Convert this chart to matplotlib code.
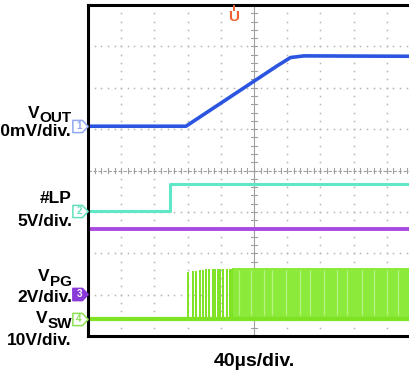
import numpy as np
import matplotlib
matplotlib.use("Agg")
import matplotlib.pyplot as plt
from matplotlib.path import Path

plt.rcParams["font.family"] = ["Liberation Sans", "DejaVu Sans"]

W, H = 410, 372

# Traces in scope divisions (x: 0..10 time div, y: 0..8 vertical div)
t_vout = [0.0, 2.95, 5.70, 6.10, 6.50, 10.0]
v_vout = [5.07, 5.07, 6.53, 6.73, 6.77, 6.76]

t_lp = [0.0, 2.47, 2.47, 10.0]
v_lp = [3.02, 3.02, 3.67, 3.67]

t_pg = [0.0, 10.0]
v_pg = [2.58, 2.58]

sw_low = 0.41
sw_high = 1.62
# first, widely spaced switching pulses before the burst settles
sw_pulses = [3.01, 3.16, 3.25, 3.37, 3.46, 3.55, 3.64, 3.77, 3.83,
             3.92, 3.98, 4.07, 4.19, 4.28, 4.34]
sw_tops = [1.55, 1.57, 1.58, 1.60, 1.60, 1.61, 1.62, 1.62, 1.62,
           1.62, 1.62, 1.63, 1.63, 1.63, 1.63]
burst_start, burst_end = 4.34, 10.0
# lighter gaps seen inside the dense burst
burst_gaps = [4.55, 4.9, 5.3, 5.55, 5.95, 6.4, 6.7, 7.1, 7.5, 7.8,
              8.25, 8.6, 9.0, 9.35, 9.7]

trigger_t = 4.40

# channel markers on the left edge: (label, level, edge colour, fill)
ch_markers = [
    ("1", 5.07, "#8fa8f0", "white"),
    ("2", 3.02, "#62e2bc", "white"),
    ("3", 1.01, "#8a3ad8", "#8a3ad8"),
    ("4", 0.41, "#8ce052", "white"),
]

c_vout = "#2b55e0"
c_lp = "#5ee8c6"
c_pg = "#a94ae0"
c_sw = "#7ee322"


def px(x, y):
    return x / W, 1 - y / H


fig = plt.figure(figsize=(W / 100, H / 100), dpi=100)
ax = fig.add_axes([88 / W, (H - 336) / H, 332 / W, 331 / H])
ax.set_xlim(0, 10)
ax.set_ylim(0, 8)
ax.set_xticks([])
ax.set_yticks([])
for side in ("left", "top", "bottom", "right"):
    ax.spines[side].set_linewidth(2.2)
    ax.spines[side].set_color("black")
    ax.spines[side].set_zorder(10)

# graticule: dotted divisions, ticked centre lines
grid_c = "#b4b4b4"
ys = np.arange(0, 8.01, 0.2)
xs = np.arange(0, 10.01, 0.2)
for k in range(1, 10):
    if k == 5:
        continue
    ax.plot(np.full_like(ys, k), ys, ls="none", marker="s", ms=1.1,
            color=grid_c, mew=0, zorder=1)
for j in range(1, 8):
    if j == 4:
        continue
    ax.plot(xs, np.full_like(xs, j), ls="none", marker="s", ms=1.1,
            color=grid_c, mew=0, zorder=1)
ax.axvline(5, color="#a0a0a0", lw=0.8, zorder=1)
ax.axhline(4, color="#a0a0a0", lw=0.8, ls=(0, (3, 1.5)), zorder=1)
for y in ys:
    ax.plot([4.92, 5.08], [y, y], color="#a0a0a0", lw=0.8, zorder=1)
for x in xs:
    ax.plot([x, x], [3.93, 4.07], color="#a0a0a0", lw=0.8, zorder=1)

# traces
ax.plot(t_vout, v_vout, color=c_vout, lw=2.6, zorder=4, solid_joinstyle="round")
ax.plot(t_lp, v_lp, color=c_lp, lw=2.2, zorder=4)
ax.plot(t_pg, v_pg, color=c_pg, lw=2.8, zorder=4)

ax.fill_between([burst_start, burst_end], sw_low, sw_high + 0.03,
                color="#8cea3a", lw=0, zorder=3)
ax.vlines(burst_gaps, sw_low + 0.1, sw_high - 0.02, color="#b6f484",
          lw=0.9, zorder=3)
ax.vlines(sw_pulses, sw_low, sw_tops, color=c_sw, lw=1.4, zorder=3)
ax.plot([0, 10], [sw_low, sw_low], color=c_sw, lw=3.0, zorder=4)

# trigger position marker
ax.plot([trigger_t, trigger_t], [7.98, 7.88], color="#f06030", lw=1.4,
        clip_on=False, zorder=11)
ax.text(trigger_t, 7.70, "U", color="#f06030", fontsize=11, fontweight="bold",
        ha="center", va="center", zorder=11)

# channel ground markers
pent = Path([(-1, -0.8), (0.25, -0.8), (1, 0), (0.25, 0.8), (-1, 0.8), (-1, -0.8)],
            [Path.MOVETO, Path.LINETO, Path.LINETO, Path.LINETO, Path.LINETO,
             Path.CLOSEPOLY])
for lab, lvl, ec, fc in ch_markers:
    ax.plot([-0.25], [lvl], marker=pent, ms=11, mec=ec, mfc=fc, mew=1.1,
            clip_on=False, zorder=11)
    ax.text(-0.27, lvl, lab, color="white" if fc != "white" else ec,
            fontsize=7, fontweight="bold", ha="center", va="center",
            clip_on=False, zorder=12)

# channel labels
label_kw = dict(ha="right", va="baseline", fontsize=12.5, fontweight="bold")
renderer = fig.canvas.get_renderer()


def sub_label(x_right, y_base, main, sub, dy):
    t = fig.text(*px(x_right, y_base + dy), sub, ha="right", va="baseline",
                 fontsize=11, fontweight="bold")
    bb = t.get_window_extent(renderer)
    fig.text(bb.x0 / fig.bbox.width, 1 - y_base / H, main, **label_kw)


sub_label(72, 118, "V", "OUT", 4.0)
fig.text(*px(72, 136), "100mV/div.", **label_kw)
fig.text(*px(72, 203), "#LP", **label_kw)
fig.text(*px(72, 226), "5V/div.", **label_kw)
sub_label(72, 281, "V", "PG", 4.5)
fig.text(*px(72, 302), "2V/div.", **label_kw)
sub_label(72, 323, "V", "SW", 5)
fig.text(*px(72, 345), "10V/div.", **label_kw)

fig.text(*px(254, 366), "40µs/div.", ha="center", va="baseline",
         fontsize=14, fontweight="bold")

fig.savefig("out.png", dpi=100)
